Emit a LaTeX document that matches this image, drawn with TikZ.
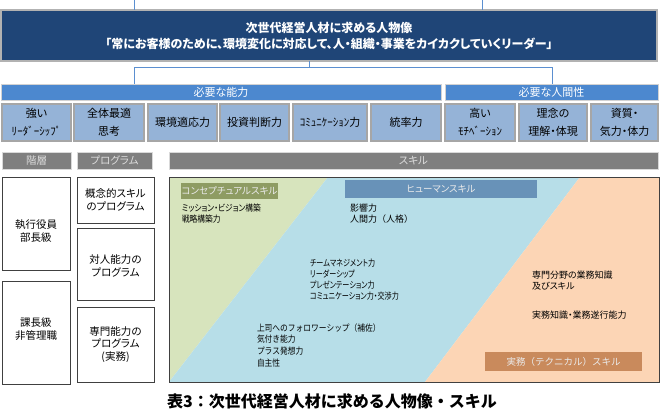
\documentclass[tikz,border=0pt]{standalone}
\usepackage{fontspec}
\setmainfont{Noto Sans CJK JP}[RawFeature=+palt]
\newfontfamily\capfont{Noto Sans CJK JP}
\newfontfamily\skp{Noto Sans CJK JP}[RawFeature=+palt, FakeStretch=0.86]
\newfontfamily\skq{Noto Sans CJK JP}[RawFeature=+palt, FakeStretch=0.79]
\newfontfamily\skn{Noto Sans CJK JP}[FakeStretch=0.86]
\definecolor{navy}{HTML}{1F4577}
\definecolor{barblue}{HTML}{4C88CF}
\definecolor{cellblue}{HTML}{95B3D7}
\definecolor{cellgray}{HTML}{A6A6A6}
\definecolor{ghgray}{HTML}{7F7F7F}
\definecolor{ghtext}{HTML}{DCDCDC}
\definecolor{boxgray}{HTML}{404040}
\definecolor{connblue}{HTML}{5B8FD0}
\definecolor{sgreen}{HTML}{D7E4BD}
\definecolor{sblue}{HTML}{B7DEE8}
\definecolor{sorange}{HTML}{FCD5B5}
\definecolor{lgreen}{HTML}{8E9C63}
\definecolor{lblue}{HTML}{6892B8}
\definecolor{lorange}{HTML}{C98A5C}
\begin{document}
\begin{tikzpicture}[x=1pt,y=-1pt,
  rect/.style={inner sep=0pt, outer sep=0pt, align=center},
  mainbox/.style={rect, fill=navy, draw=gray!60, line width=1.2pt, text=white, font=\bfseries\fontsize{12}{16}\selectfont},
  bar/.style={rect, fill=barblue, draw=gray!35, line width=0.8pt, text=white, font=\fontsize{11}{13}\selectfont},
  cell/.style={rect, fill=cellblue, draw=cellgray, line width=1.5pt, font=\fontsize{11}{18}\selectfont},
  ghead/.style={rect, fill=ghgray, draw=gray!30, line width=0.6pt, text=ghtext, font=\fontsize{10.5}{12}\selectfont},
  wbox/.style={rect, draw=boxgray, line width=1pt, fill=white, font=\fontsize{10.5}{12.5}\selectfont},
  wtext/.style={rect, font=\fontsize{10.5}{12.5}\selectfont},
  stext/.style={inner sep=0pt, outer sep=0pt, align=left, anchor=north west, font=\fontsize{9}{11.2}\selectfont},
  lab/.style={rect, text=white!92!black, font=\fontsize{9.5}{11}\selectfont},
  conn/.style={draw=connblue, line width=1pt}
]
\useasboundingbox (0,0) rectangle (660,409);

% main box
\node[mainbox, minimum width=656, minimum height=51] (main) at (329,35.5)
  {次世代経営人材に求める人物像\\「常にお客様のために、環境変化に対応して、人・組織・事業をカイカクしていくリーダー」};

% bars
\node[bar, minimum width=440, minimum height=16] (bar1) at (221,92) {必要な能力};
\node[bar, minimum width=213, minimum height=16] (bar2) at (551.5,92) {必要な人間性};

% connectors
\coordinate (t1) at (134.7,0);
\coordinate (t2) at (482,0);
\coordinate (j) at (309,67.7);
\coordinate (jl) at (134.7,67.7);
\coordinate (jr) at (552,67.7);
\draw[conn] (t1) -- (t1 |- main.north);
\draw[conn] (t2) -- (t2 |- main.north);
\draw[conn] (j |- main.south) -- (j);
\draw[conn] (jl |- bar1.north) -- (jl) -- (jr) -- (jr |- bar2.north);

% cells
\node[cell, minimum width=69, minimum height=37] (c1) at (36.5,122.5) {強い\\ﾘｰﾀﾞｰｼｯﾌﾟ};
\node[cell, minimum width=70, minimum height=37] (c2) at (109,122.5) {全体最適\\思考};
\node[cell, minimum width=69, minimum height=37] (c3) at (182.5,122.5) {環境適応力};
\node[cell, minimum width=69, minimum height=37] (c4) at (254.5,122.5) {投資判断力};
\node[cell, minimum width=74, minimum height=37] (c5) at (330,122.5) {ｺﾐｭﾆｹｰｼｮﾝ力};
\node[cell, minimum width=70, minimum height=37] (c6) at (406,122.5) {統率力};
\node[cell, minimum width=70, minimum height=37] (c7) at (480,122.5) {高い\\ﾓﾁﾍﾞｰｼｮﾝ};
\node[cell, minimum width=68, minimum height=37] (c8) at (553,122.5) {理念の\\理解・体現};
\node[cell, minimum width=67, minimum height=37] (c9) at (624.5,122.5) {資質・\\気力・体力};

% gray headers
\node[ghead, minimum width=69, minimum height=17] (h1) at (36.5,160.5) {階層};
\node[ghead, minimum width=75, minimum height=17] (h2) at (114.5,160.5) {プログラム};
\node[ghead, minimum width=489, minimum height=17] (h3) at (413.5,160.5) {スキル};

% left boxes
\node[wbox, minimum width=68, minimum height=93] (exec) at (36,223.5) {};
\node[wtext] (exect) at (36,231) {執行役員\\部長級};
\node[wbox, minimum width=68, minimum height=103] (mgr) at (36,332.5) {};
\node[wtext] (mgrt) at (36,329) {課長級\\非管理職};
\node[wbox, minimum width=77, minimum height=46] (p1) at (115.5,200) {概念的スキル\\のプログラム};
\node[wbox, minimum width=77, minimum height=72] (p2) at (115.5,264) {};
\node[wtext] (p2t) at (115.5,266) {対人能力の\\プログラム};
\node[wbox, minimum width=77, minimum height=75] (p3) at (115.5,344.5) {専門能力の\\プログラム\\(実務)};

% skill area
\fill[sgreen] (169,177) -- (328,177) -- (169,382) -- cycle;
\fill[sblue] (328,177) -- (580,177) -- (425,382) -- (169,382) -- cycle;
\fill[sorange] (580,177) -- (659,177) -- (659,382) -- (425,382) -- cycle;
\node[rect, draw=boxgray, line width=1pt, minimum width=490, minimum height=205] (skills) at (414,279.5) {};

\node[lab, fill=lgreen, minimum width=97, minimum height=16] (lc) at (229.5,191) {コンセプチュアルスキル};
\node[lab, fill=lblue, minimum width=192, minimum height=18] (lh) at (441,189) {ヒューマンスキル};
\node[lab, fill=lorange, minimum width=157, minimum height=19, font=\capfont\fontsize{9.5}{11}\selectfont] (lt) at (563.5,361.5) {実務（テクニカル）スキル};

\node[stext, font=\skp\fontsize{9}{11.2}\selectfont] (s1) at (182,203.5) {ミッション・ビジョン構築\\戦略構築力};
\node[stext, font=\capfont\fontsize{9}{11.2}\selectfont] (s2) at (350,203.5) {影響力\\人間力（人格）};
\node[stext, font=\skq\fontsize{9}{11.2}\selectfont] (s3) at (310,258.5) {チームマネジメント力\\リーダーシップ\\プレゼンテーション力\\コミュニケーション力・交渉力};
\node[stext, font=\skn\fontsize{9}{11.6}\selectfont] (s4) at (257,323.5) {上司へのフォロワーシップ（補佐）\\気付き能力\\プラス発想力\\自主性};
\node[stext] (s5) at (532,270.5) {専門分野の業務知識\\及びスキル};
\node[stext] (s6) at (532,311) {実務知識・業務遂行能力};

% caption
\node[inner sep=0pt, font=\capfont\bfseries\fontsize{16}{18}\selectfont] (cap) at (332,401) {表3：次世代経営人材に求める人物像・スキル};
\end{tikzpicture}
\end{document}
